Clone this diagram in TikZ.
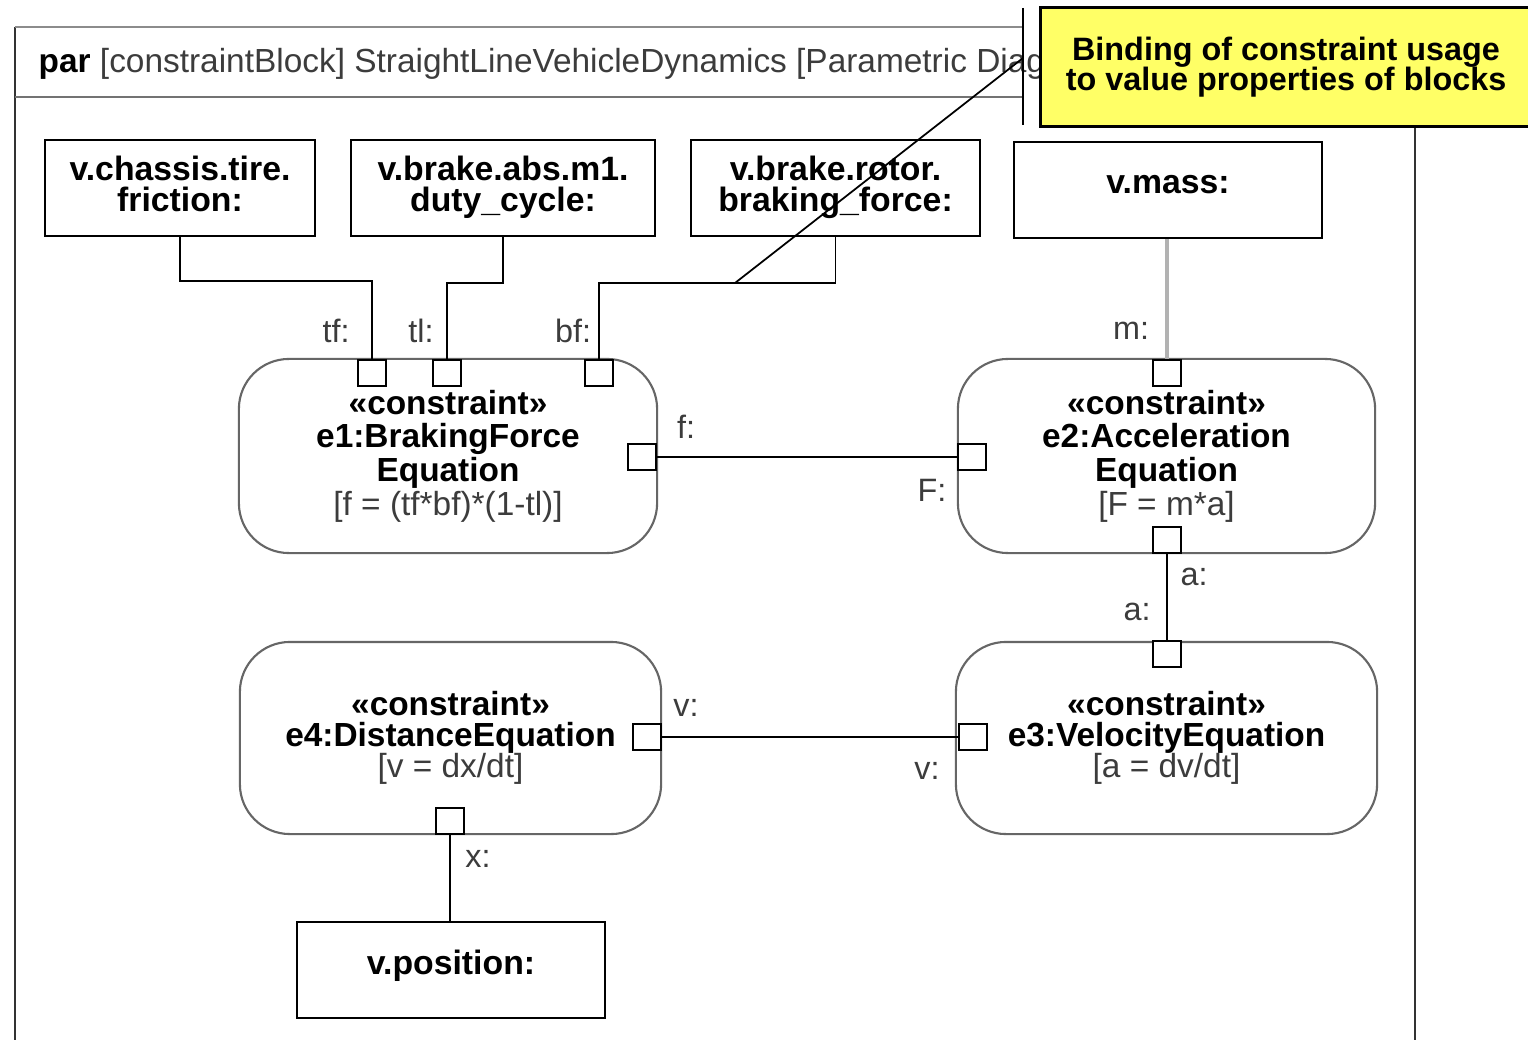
\documentclass[tikz,border=0pt]{standalone}
\usepackage{fontspec}
\setmainfont{Liberation Sans}
\definecolor{noteyellow}{RGB}{255,255,102}
\definecolor{txtgray}{RGB}{60,60,60}
\lineskiplimit=-6pt
\begin{document}
\begin{tikzpicture}[x=0.01cm,y=-0.01cm,
  vbox/.style={draw=black, line width=0.7pt, fill=white, align=center, inner sep=0pt,
    font=\bfseries\fontsize{9.6}{8.8}\selectfont},
  vtext/.style={align=center, inner sep=0pt, font=\bfseries\fontsize{9.6}{8.8}\selectfont},
  cblock/.style={draw=black!60, line width=0.6pt, rounded corners=0.5cm, fill=white,
    align=center, inner sep=0pt, font=\fontsize{9.5}{9.6}\selectfont},
  port/.style={draw=black, line width=0.45pt, fill=white, minimum width=0.28cm,
    minimum height=0.26cm, inner sep=0pt},
  lbl/.style={font=\fontsize{9.2}{10}\selectfont, text=txtgray, inner sep=0pt},
  wire/.style={line width=0.55pt, black},
  notebox/.style={fill=noteyellow, draw=black, line width=0.9pt, align=center,
    inner sep=0pt, font=\bfseries\fontsize{9.2}{8.5}\selectfont}]
\clip (0,0) rectangle (1528,1040);
\fill[white] (0,0) rectangle (1528,1040);
% frame
\draw[black!80, line width=0.5pt] (15,1050) -- (15,27);
\draw[black!45, line width=0.6pt] (15,27) -- (1023,27);
\draw[black!55, line width=0.6pt] (15,97) -- (1023,97);
\draw[black!80, line width=0.5pt] (1415,126) -- (1415,1050);
\node[anchor=base west, font=\fontsize{9.5}{10}\selectfont, text=txtgray, inner sep=0pt] (title) at (38,73)
  {\textcolor{black}{\bfseries par} [constraintBlock] StraightLineVehicleDynamics [Parametric Diag};
% value property boxes
\node[vbox, minimum width=2.70cm, minimum height=0.96cm] (b1) at (180,188) {};
\node[vtext] (b1t) at (180,184) {v.chassis.tire.\\friction:};
\node[vbox, minimum width=3.04cm, minimum height=0.96cm] (b2) at (503,188) {};
\node[vtext] (b2t) at (503,187) {v.brake.abs.m1.\\duty\_cycle:};
\node[vbox, minimum width=2.89cm, minimum height=0.96cm] (b3) at (835.5,188) {};
\node[vtext] (b3t) at (835.5,187) {v.brake.rotor.\\braking\_force:};
\node[vbox, minimum width=3.08cm, minimum height=0.96cm] (vmass) at (1168,190) {};
\node[vtext] (vmasst) at (1168,185) {v.mass:};
\node[vbox, minimum width=3.08cm, minimum height=0.96cm] (vpos) at (451,970) {};
\node[vtext] (vpost) at (451,966) {v.position:};
% constraint blocks
\node[cblock, minimum width=4.18cm, minimum height=1.94cm] (e1) at (448,456)
  {\textbf{«constraint»}\\\textbf{e1:BrakingForce}\\\textbf{Equation}\\{\color{txtgray}[f = (tf*bf)*(1-tl)]}};
\node[cblock, minimum width=4.17cm, minimum height=1.94cm] (e2) at (1166.5,456)
  {\textbf{«constraint»}\\\textbf{e2:Acceleration}\\\textbf{Equation}\\{\color{txtgray}[F = m*a]}};
\node[cblock, minimum width=4.21cm, minimum height=1.92cm, font=\fontsize{9.5}{8.8}\selectfont] (e3) at (1166.5,738)
  {\textbf{«constraint»}\\\textbf{e3:VelocityEquation}\\{\color{txtgray}[a = dv/dt]}};
\node[cblock, minimum width=4.21cm, minimum height=1.92cm, font=\fontsize{9.5}{8.8}\selectfont] (e4) at (450.5,738)
  {\textbf{«constraint»}\\\textbf{e4:DistanceEquation}\\{\color{txtgray}[v = dx/dt]}};
% ports
\node[port] (e1tf) at (372,373) {};
\node[port] (e1tl) at (447,373) {};
\node[port] (e1bf) at (599,373) {};
\node[port] (e1f) at (642,457) {};
\node[port] (e2m) at (1167,373) {};
\node[port] (e2F) at (972,457) {};
\node[port] (e2a) at (1167,540) {};
\node[port] (e3a) at (1167,654) {};
\node[port] (e3v) at (973,737) {};
\node[port] (e4v) at (647,737) {};
\node[port] (e4x) at (450,821) {};
% connectors
\draw[wire] (b1.south) -- ++(0,44) -| (e1tf.north);
\draw[wire] (b2.south) -- ++(0,46) -| (e1tl.north);
\draw[wire] (b3.south) -- ++(0,46) -| (e1bf.north);
\draw[line width=0.9pt, black!30] (e2m.north |- vmass.south) -- (e2m.north);
\draw[wire] (e1f.east) -- (e2F.west);
\draw[wire] (e2a.south) -- (e3a.north);
\draw[wire] (e4v.east) -- (e3v.west);
\draw[wire] (e4x.south) -- (e4x.south |- vpos.north);
% labels
\node[lbl] (ltf) at (336,331) {tf:};
\node[lbl] (ltl) at (421,331) {tl:};
\node[lbl] (lbf) at (573,331) {bf:};
\node[lbl] (lm) at (1131,331) {m:};
\node[lbl] (lf) at (686,427) {f:};
\node[lbl] (lF) at (932,490) {F:};
\node[lbl] (la1) at (1194,577) {a:};
\node[lbl] (la2) at (1137,612) {a:};
\node[lbl] (lv1) at (686,708) {v:};
\node[lbl] (lv2) at (927,771) {v:};
\node[lbl] (lx) at (478,859) {x:};
% note
\coordinate (ntop) at (1023,8);
\coordinate (nbot) at (1023,125);
\coordinate (ntip) at (1023,58);
\coordinate (callout) at (735,283);
\draw[line width=0.6pt] (ntop) -- (nbot);
\draw[line width=0.5pt] (ntip) -- (callout);
\node[notebox, minimum width=4.90cm, minimum height=1.19cm] (note) at (1286,67)
  {Binding of constraint usage\\to value properties of blocks};
\end{tikzpicture}
\end{document}
